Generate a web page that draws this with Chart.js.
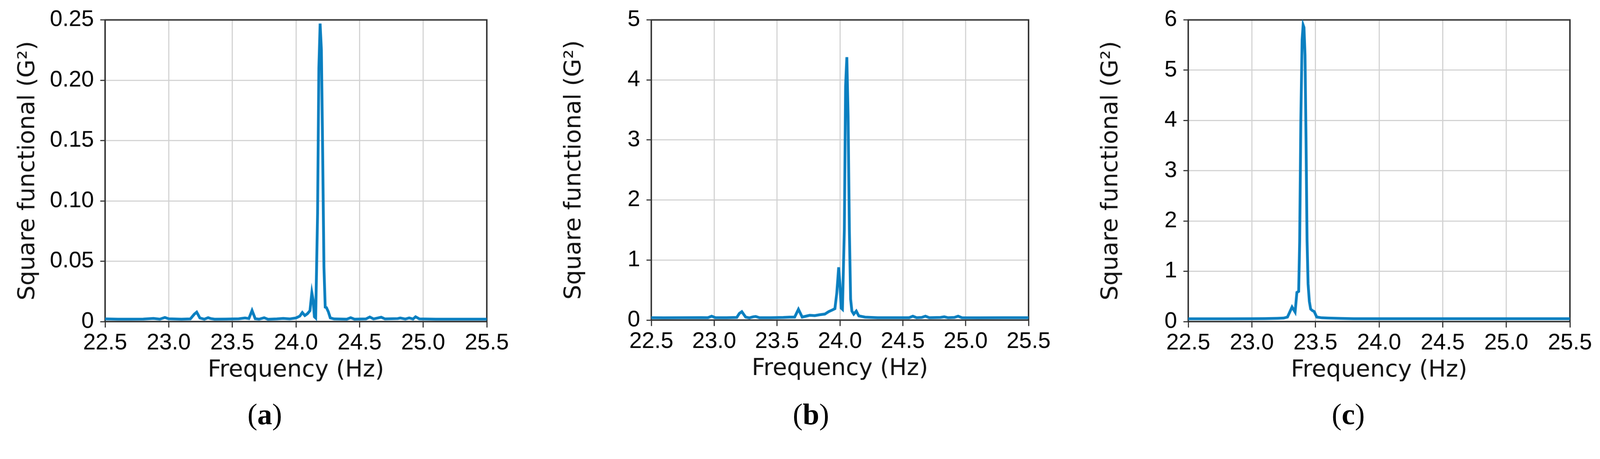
<!DOCTYPE html>
<html>
<head>
<meta charset="utf-8">
<script src="https://cdn.jsdelivr.net/npm/chart.js@4.4.1/dist/chart.umd.min.js"></script>
<style>
  html, body { margin: 0; padding: 0; background: #fff; overflow: hidden; }
  #stage { position: absolute; left: 0; top: 0; width: 4309px; height: 1175px; transform-origin: 0 0; }
  canvas { position: absolute; top: 0; }
  .cap { position: absolute; top: 1075px; width: 200px; text-align: center;
         font-family: 'Liberation Serif', serif; font-size: 80px; line-height: 80px; color: #000; }
</style>
</head>
<body>
<div id="stage">
  <canvas id="chartA" width="1400" height="1175" style="left:0px"></canvas>
  <canvas id="chartB" width="1420" height="1175" style="left:1440px"></canvas>
  <canvas id="chartC" width="1409" height="1175" style="left:2900px"></canvas>
  <div class="cap" style="left:613px">(<b>a</b>)</div>
  <div class="cap" style="left:2084px">(<b>b</b>)</div>
  <div class="cap" style="left:3531px">(<b>c</b>)</div>
</div>
<script>
// shared x axis
const xTickVals = [22.5, 23.0, 23.5, 24.0, 24.5, 25.0, 25.5];
const xTickLabels = ['22.5', '23.0', '23.5', '24.0', '24.5', '25.0', '25.5'];

// (a)
const freqA = [22.5, 22.6, 22.7, 22.8, 22.88, 22.93, 22.97, 23.0, 23.1, 23.17, 23.2, 23.22, 23.245, 23.28, 23.31, 23.33, 23.36, 23.45, 23.55, 23.6, 23.63, 23.655, 23.68, 23.71, 23.75, 23.78, 23.85, 23.9, 23.95, 24.0, 24.03, 24.05, 24.07, 24.09, 24.11, 24.125, 24.135, 24.145, 24.155, 24.17, 24.18, 24.19, 24.2, 24.21, 24.22, 24.23, 24.24, 24.255, 24.27, 24.3, 24.4, 24.43, 24.46, 24.55, 24.58, 24.61, 24.67, 24.7, 24.8, 24.82, 24.86, 24.89, 24.92, 24.94, 24.97, 25.1, 25.3, 25.5];
const valA = [0.0022, 0.002, 0.002, 0.0021, 0.0026, 0.002, 0.0034, 0.0023, 0.002, 0.0022, 0.006, 0.0078, 0.003, 0.002, 0.0032, 0.0025, 0.002, 0.0021, 0.0023, 0.003, 0.0025, 0.0092, 0.0024, 0.002, 0.0032, 0.0019, 0.0022, 0.0026, 0.0022, 0.003, 0.0045, 0.0075, 0.005, 0.0065, 0.009, 0.024, 0.018, 0.004, 0.003, 0.09, 0.21, 0.247, 0.225, 0.14, 0.045, 0.012, 0.0115, 0.008, 0.003, 0.0022, 0.002, 0.0032, 0.002, 0.0022, 0.0038, 0.0022, 0.0036, 0.0022, 0.0025, 0.003, 0.0021, 0.003, 0.0021, 0.004, 0.0022, 0.002, 0.002, 0.002];
const yTicksA = [0, 0.05, 0.10, 0.15, 0.20, 0.25];
const yLabelsA = ['0', '0.05', '0.10', '0.15', '0.20', '0.25'];

// (b)
const freqB = [22.5, 22.6, 22.75, 22.9, 22.95, 22.98, 23.01, 23.1, 23.18, 23.2, 23.22, 23.25, 23.28, 23.31, 23.33, 23.36, 23.45, 23.55, 23.6, 23.64, 23.67, 23.7, 23.73, 23.76, 23.8, 23.84, 23.88, 23.91, 23.94, 23.96, 23.975, 23.99, 24.0, 24.01, 24.02, 24.035, 24.045, 24.055, 24.065, 24.075, 24.085, 24.095, 24.11, 24.13, 24.15, 24.2, 24.3, 24.45, 24.55, 24.58, 24.61, 24.65, 24.68, 24.71, 24.8, 24.83, 24.86, 24.91, 24.94, 24.97, 25.1, 25.3, 25.5];
const valB = [0.04, 0.038, 0.04, 0.042, 0.04, 0.065, 0.04, 0.04, 0.045, 0.11, 0.14, 0.05, 0.038, 0.055, 0.06, 0.04, 0.04, 0.045, 0.05, 0.05, 0.18, 0.05, 0.065, 0.08, 0.075, 0.09, 0.1, 0.14, 0.17, 0.19, 0.45, 0.88, 0.6, 0.2, 0.18, 1.5, 3.9, 4.38, 3.4, 1.5, 0.35, 0.15, 0.1, 0.15, 0.07, 0.05, 0.04, 0.04, 0.04, 0.065, 0.04, 0.045, 0.065, 0.04, 0.045, 0.055, 0.04, 0.045, 0.065, 0.04, 0.038, 0.04, 0.04];
const yTicksB = [0, 1, 2, 3, 4, 5];
const yLabelsB = ['0', '1', '2', '3', '4', '5'];

// (c)
const freqC = [22.5, 22.8, 23.0, 23.1, 23.2, 23.25, 23.28, 23.3, 23.316, 23.34, 23.354, 23.368, 23.376, 23.385, 23.395, 23.403, 23.41, 23.418, 23.426, 23.434, 23.442, 23.452, 23.462, 23.475, 23.49, 23.51, 23.55, 23.6, 23.7, 23.8, 24.0, 24.5, 25.0, 25.5];
const valC = [0.055, 0.055, 0.058, 0.06, 0.065, 0.07, 0.09, 0.2, 0.29, 0.19, 0.58, 0.6, 1.6, 4.0, 5.6, 5.9, 5.85, 5.3, 3.6, 1.6, 0.75, 0.4, 0.25, 0.22, 0.2, 0.09, 0.075, 0.07, 0.062, 0.058, 0.058, 0.058, 0.058, 0.058];
const yTicksC = [0, 1, 2, 3, 4, 5, 6];
const yLabelsC = ['0', '1', '2', '3', '4', '5', '6'];

const lineColor = '#0a7fc0';
const gridColor = '#d2d2d2';
const axisColor = '#333333';

// fit the 4309x1175 layout into whatever CSS viewport we get
const fit = Math.min(window.innerWidth / 4309, window.innerHeight / 1175);
document.getElementById('stage').style.transform = 'scale(' + fit + ')';

const framePlugin = {
  id: 'frame',
  beforeDatasetsDraw(chart) {
    const { ctx, chartArea: a } = chart;
    ctx.save();
    ctx.strokeStyle = axisColor;
    ctx.lineWidth = 4;
    ctx.strokeRect(a.left, a.top, a.right - a.left, a.bottom - a.top);
    ctx.restore();
  }
};

function makeChart(id, xs, ys, yTicks, yLabels, pad) {
  const pts = xs.map((x, i) => ({ x: x, y: ys[i] }));
  return new Chart(document.getElementById(id), {
    type: 'line',
    data: {
      datasets: [{
        data: pts,
        borderColor: lineColor,
        borderWidth: 7.5,
        pointRadius: 0,
        tension: 0,
        fill: false
      }]
    },
    options: {
      responsive: false,
      animation: false,
      devicePixelRatio: 1,
      layout: { padding: pad },
      plugins: { legend: { display: false }, tooltip: { enabled: false } },
      scales: {
        x: {
          type: 'linear',
          min: 22.5,
          max: 25.5,
          afterBuildTicks: s => { s.ticks = xTickVals.map(v => ({ value: v })); },
          afterFit: s => { s.height = 169; },
          grid: { color: gridColor, lineWidth: 3, tickLength: 16, tickColor: axisColor, tickWidth: 3 },
          border: { display: true, color: axisColor, width: 4 },
          ticks: {
            autoSkip: false, maxRotation: 0, padding: 6, color: '#000',
            font: { family: 'Liberation Sans', size: 61 },
            callback: (v, i) => xTickLabels[i]
          },
          title: {
            display: true, text: 'Frequency (Hz)', color: '#111',
            font: { family: 'DejaVu Sans', size: 63 }, padding: { top: 0, bottom: 0 }
          }
        },
        y: {
          type: 'linear',
          min: yTicks[0],
          max: yTicks[yTicks.length - 1],
          afterBuildTicks: s => { s.ticks = yTicks.map(v => ({ value: v })); },
          afterFit: s => { s.width = 245; },
          grid: { color: gridColor, lineWidth: 3, tickLength: 13, tickColor: axisColor, tickWidth: 3 },
          border: { display: true, color: axisColor, width: 4 },
          ticks: {
            autoSkip: false, padding: 17, color: '#000',
            font: { family: 'Liberation Sans', size: 61 },
            callback: (v, i) => yLabels[i]
          },
          title: {
            display: true, text: 'Square functional (G\u00B2)', color: '#111',
            font: { family: 'DejaVu Sans', size: 63 }, padding: { top: 0, bottom: 0 }
          }
        }
      }
    },
    plugins: [framePlugin]
  });
}

makeChart('chartA', freqA, valA, yTicksA, yLabelsA, { left: 38, right: 89, top: 48, bottom: 140 });
makeChart('chartB', freqB, valB, yTicksB, yLabelsB, { left: 69, right: 90, top: 52, bottom: 144 });
makeChart('chartC', freqC, valC, yTicksC, yLabelsC, { left: 55, right: 81, top: 48, bottom: 140 });
</script>
</body>
</html>
